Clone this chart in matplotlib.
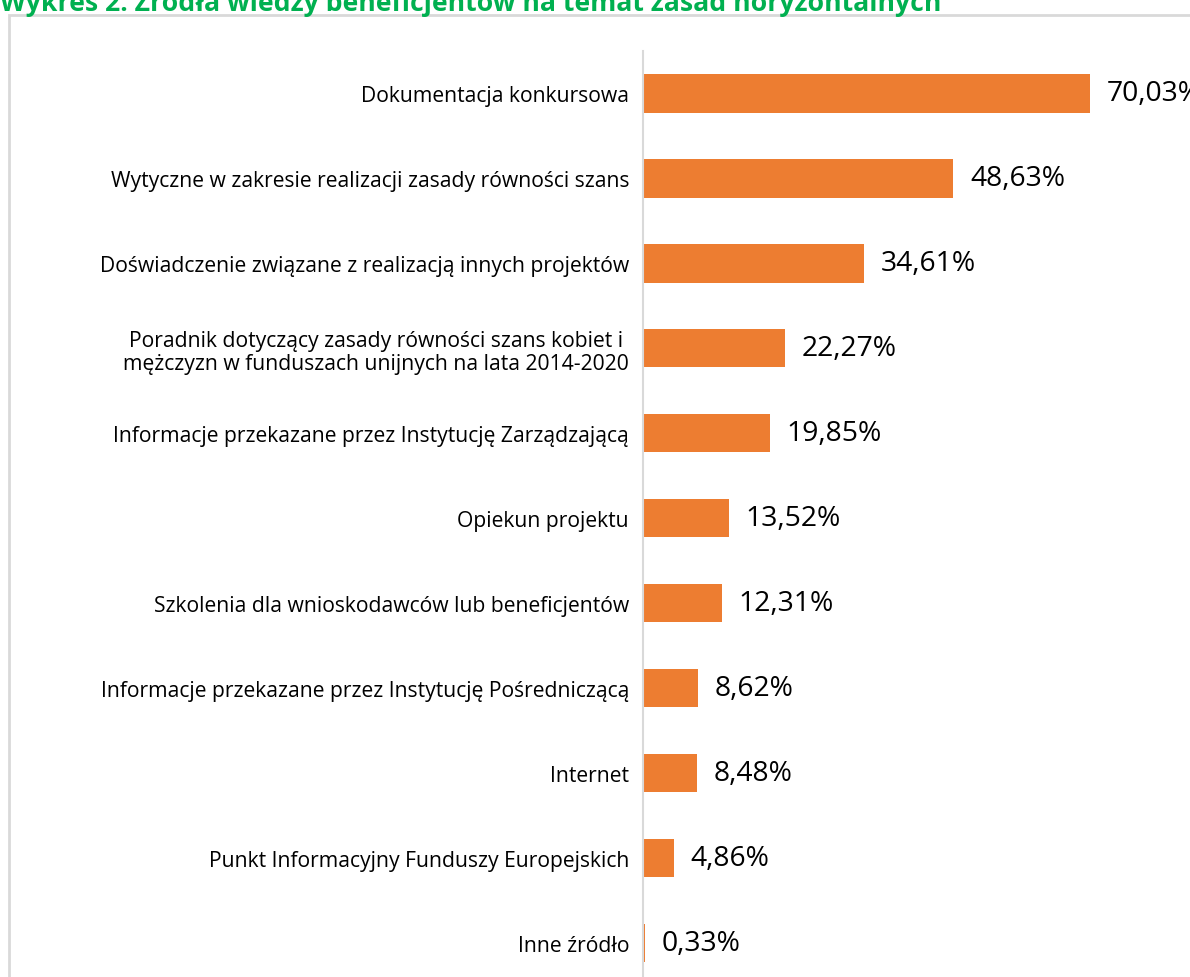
import matplotlib
matplotlib.use("Agg")
from matplotlib import pyplot as plt
from matplotlib.patches import Rectangle

plt.rcParams['font.family'] = ['Open Sans', 'DejaVu Sans']

# data
categories = [
    "Dokumentacja konkursowa",
    "Wytyczne w zakresie realizacji zasady równości szans",
    "Doświadczenie związane z realizacją innych projektów",
    "Poradnik dotyczący zasady równości szans kobiet i\nmężczyzn w funduszach unijnych na lata 2014-2020",
    "Informacje przekazane przez Instytucję Zarządzającą",
    "Opiekun projektu",
    "Szkolenia dla wnioskodawców lub beneficjentów",
    "Informacje przekazane przez Instytucję Pośredniczącą",
    "Internet",
    "Punkt Informacyjny Funduszy Europejskich",
    "Inne źródło",
]
values = [70.03, 48.63, 34.61, 22.27, 19.85, 13.52, 12.31, 8.62, 8.48, 4.86, 0.33]
title = "Wykres 2. Źródła wiedzy beneficjentów na temat zasad horyzontalnych"

W, H = 1190, 978
fig = plt.figure(figsize=(W / 100, H / 100), dpi=100)

# grey frame around the chart (runs off the right and bottom edges)
fig.patches.append(Rectangle((9 / W, -0.1), 1.2, 1 - 16 / H + 0.1,
                             transform=fig.transFigure, fill=False,
                             edgecolor='#d9d9d9', linewidth=2))

fig.text(0, 1 - 11 / H, title, color='#00b050', fontsize=19.2,
         fontweight='bold', ha='left', va='baseline')

x0 = 643 / W
ax = fig.add_axes([x0, 0, 80 * 6.383 / W, 1 - 52 / H])
y = list(range(len(categories)))
ax.barh(y, values, height=0.45, color='#ed7d31')
ax.set_xlim(0, 80)
ax.set_ylim(10.4, -0.5)

for yi, v in zip(y, values):
    ax.text(v + 2.6, yi, f"{v:.2f}%".replace('.', ','), va='center', ha='left',
            fontsize=20.3, color='#000000', clip_on=False)

ax.set_yticks(y)
ax.set_yticklabels(categories, fontsize=15.2, color='#000000',
                   multialignment='center', linespacing=1.15)
ax.tick_params(axis='y', length=0, pad=10)
ax.set_xticks([])
for s in ['top', 'right', 'bottom']:
    ax.spines[s].set_visible(False)
ax.spines['left'].set_color('#d9d9d9')
ax.spines['left'].set_linewidth(1.5)
ax.patch.set_alpha(0)

fig.savefig("out.png", dpi=100)
